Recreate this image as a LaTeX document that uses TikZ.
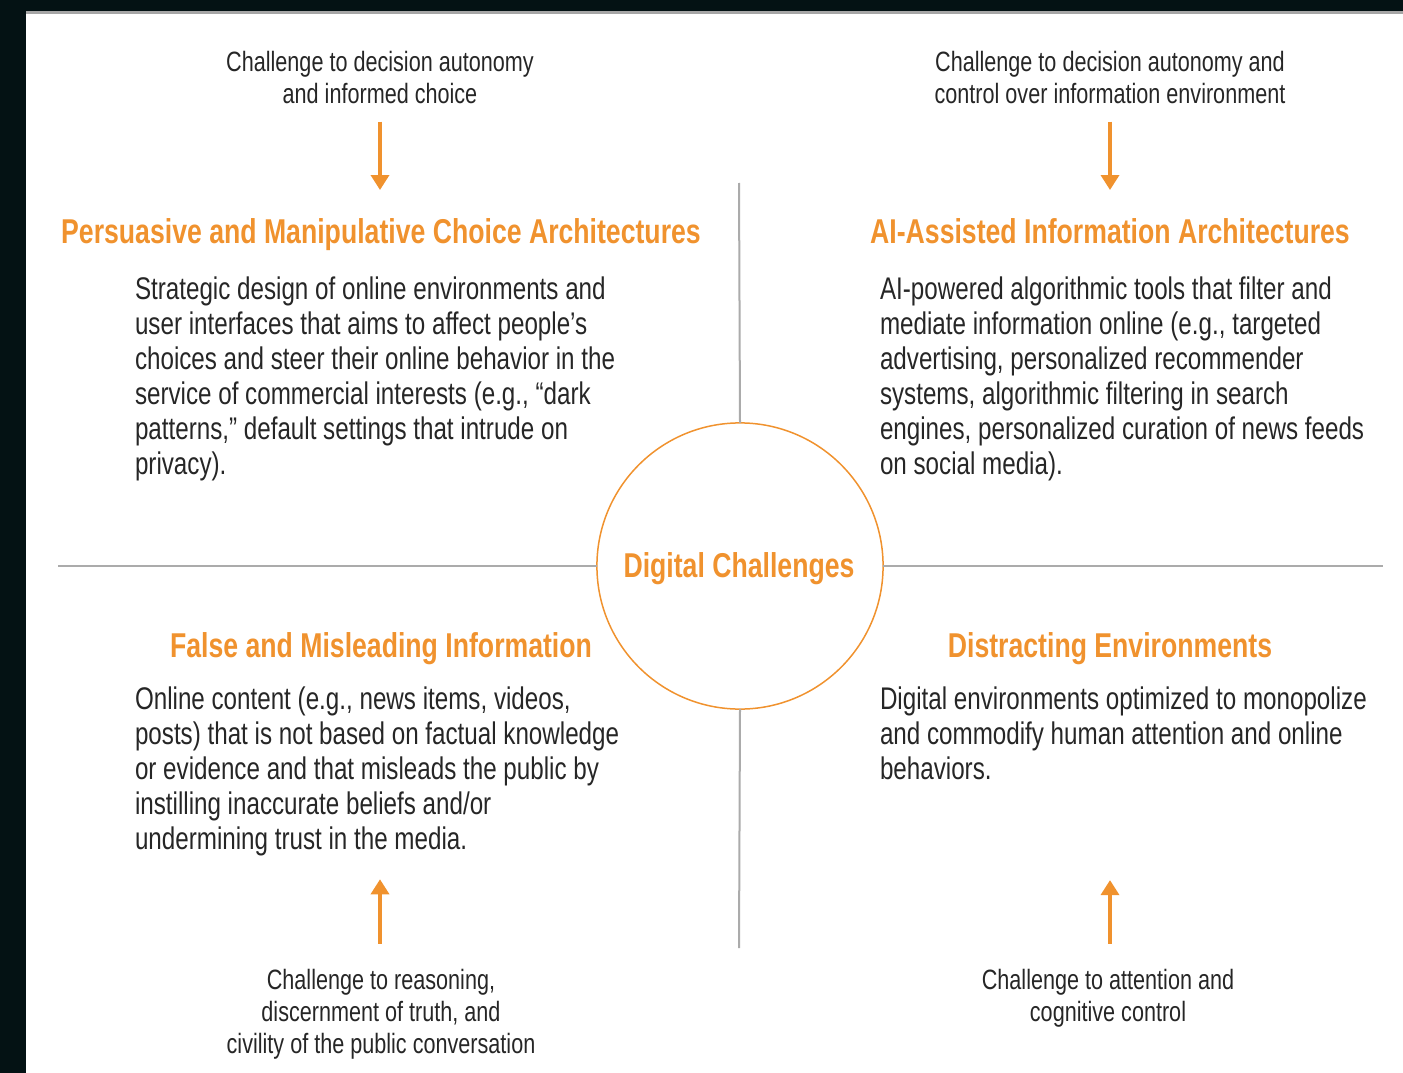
\documentclass[tikz,border=0pt]{standalone}
\usepackage{fontspec}
\setmainfont{Liberation Sans}[FakeStretch=0.773]
\usepackage{tikz}
\usetikzlibrary{arrows.meta, positioning}
\definecolor{accent}{HTML}{F0922E}
\definecolor{bodygray}{HTML}{262626}
\definecolor{rulegray}{HTML}{ABABAB}
\definecolor{frame}{HTML}{041214}

\begin{document}
\begin{tikzpicture}[
    x=0.01cm, y=-0.01cm,
    every node/.style={inner sep=0pt, outer sep=0pt},
    heading/.style={font=\fontsize{9.8}{11}\selectfont\bfseries, text=accent, anchor=base},
    bodytext/.style={font=\fontsize{8.9}{9.96}\selectfont, text=bodygray, align=left, anchor=north west},
    cuelabel/.style={font=\fontsize{7.95}{9.1}\selectfont, text=bodygray, align=center, anchor=north},
    arrow/.style={-{Triangle[width=0.18cm, length=0.15cm]}, line width=0.035cm, color=accent},
    divider/.style={draw=rulegray, line width=0.02cm},
    hub/.style={circle, draw=accent, line width=0.015cm, minimum size=2.86cm}
]

% FRAME
\useasboundingbox (0,0) rectangle (1403,1073);
\fill[frame] (0,0) rectangle (1403,11);
\fill[frame] (0,0) rectangle (26,1073);
\fill[gray!70] (26,11) rectangle (1403,14);

% CENTRE
\node[hub] (hub) at (740,566) {};
\node[heading] (hubtxt) at (739,577) {Digital Challenges};

% DIVIDERS
\coordinate (divN) at (739,183);
\coordinate (divS) at (739,948);
\coordinate (divW) at (58,566);
\coordinate (divE) at (1383,566);
\draw[divider] (divN) -- (hub.north);
\draw[divider] (hub.south) -- (divS);
\draw[divider] (divW) -- (hub.west);
\draw[divider] (hub.east) -- (divE);

% TOP LABELS
\node[cuelabel] (cueTL) at (380,51) {Challenge to decision autonomy\\and informed choice};
\node[cuelabel] (cueTR) at (1110,51) {Challenge to decision autonomy and\\control over information environment};

% HEADINGS
\node[heading] (headTL) at (381,243) {Persuasive and Manipulative Choice Architectures};
\node[heading] (headTR) at (1110,243) {AI-Assisted Information Architectures};
\node[heading] (headBL) at (381,657) {False and Misleading Information};
\node[heading] (headBR) at (1110,657) {Distracting Environments};

% BODY TEXT
\node[bodytext] (bodyTL) at (135,277) {Strategic design of online environments and\\
user interfaces that aims to affect people’s\\
choices and steer their online behavior in the\\
service of commercial interests (e.g., “dark\\
patterns,” default settings that intrude on\\
privacy).};
\node[bodytext] (bodyTR) at (880,277) {AI-powered algorithmic tools that filter and\\
mediate information online (e.g., targeted\\
advertising, personalized recommender\\
systems, algorithmic filtering in search\\
engines, personalized curation of news feeds\\
on social media).};
\node[bodytext] (bodyBL) at (135,687) {Online content (e.g., news items, videos,\\
posts) that is not based on factual knowledge\\
or evidence and that misleads the public by\\
instilling inaccurate beliefs and/or\\
undermining trust in the media.};
\node[bodytext] (bodyBR) at (880,687) {Digital environments optimized to monopolize\\
and commodify human attention and online\\
behaviors.};

% BOTTOM LABELS
\node[cuelabel] (cueBL) at (381,969) {Challenge to reasoning,\\discernment of truth, and\\civility of the public conversation};
\node[cuelabel] (cueBR) at (1108,969) {Challenge to attention and\\cognitive control};

% ARROWS
\draw[arrow, shorten <=0.18cm, shorten >=0.28cm] (cueTL.south -| 380,0) -- (headTL.north -| 380,0);
\draw[arrow, shorten <=0.18cm, shorten >=0.28cm] (cueTR.south -| 1110,0) -- (headTR.north -| 1110,0);
\draw[arrow, shorten <=0.25cm, shorten >=0.23cm] (cueBL.north -| 380,0) -- (bodyBL.south -| 380,0);
\draw[arrow, shorten <=0.25cm, shorten >=1.0cm] (cueBR.north -| 1110,0) -- (bodyBR.south -| 1110,0);

\end{tikzpicture}
\end{document}
